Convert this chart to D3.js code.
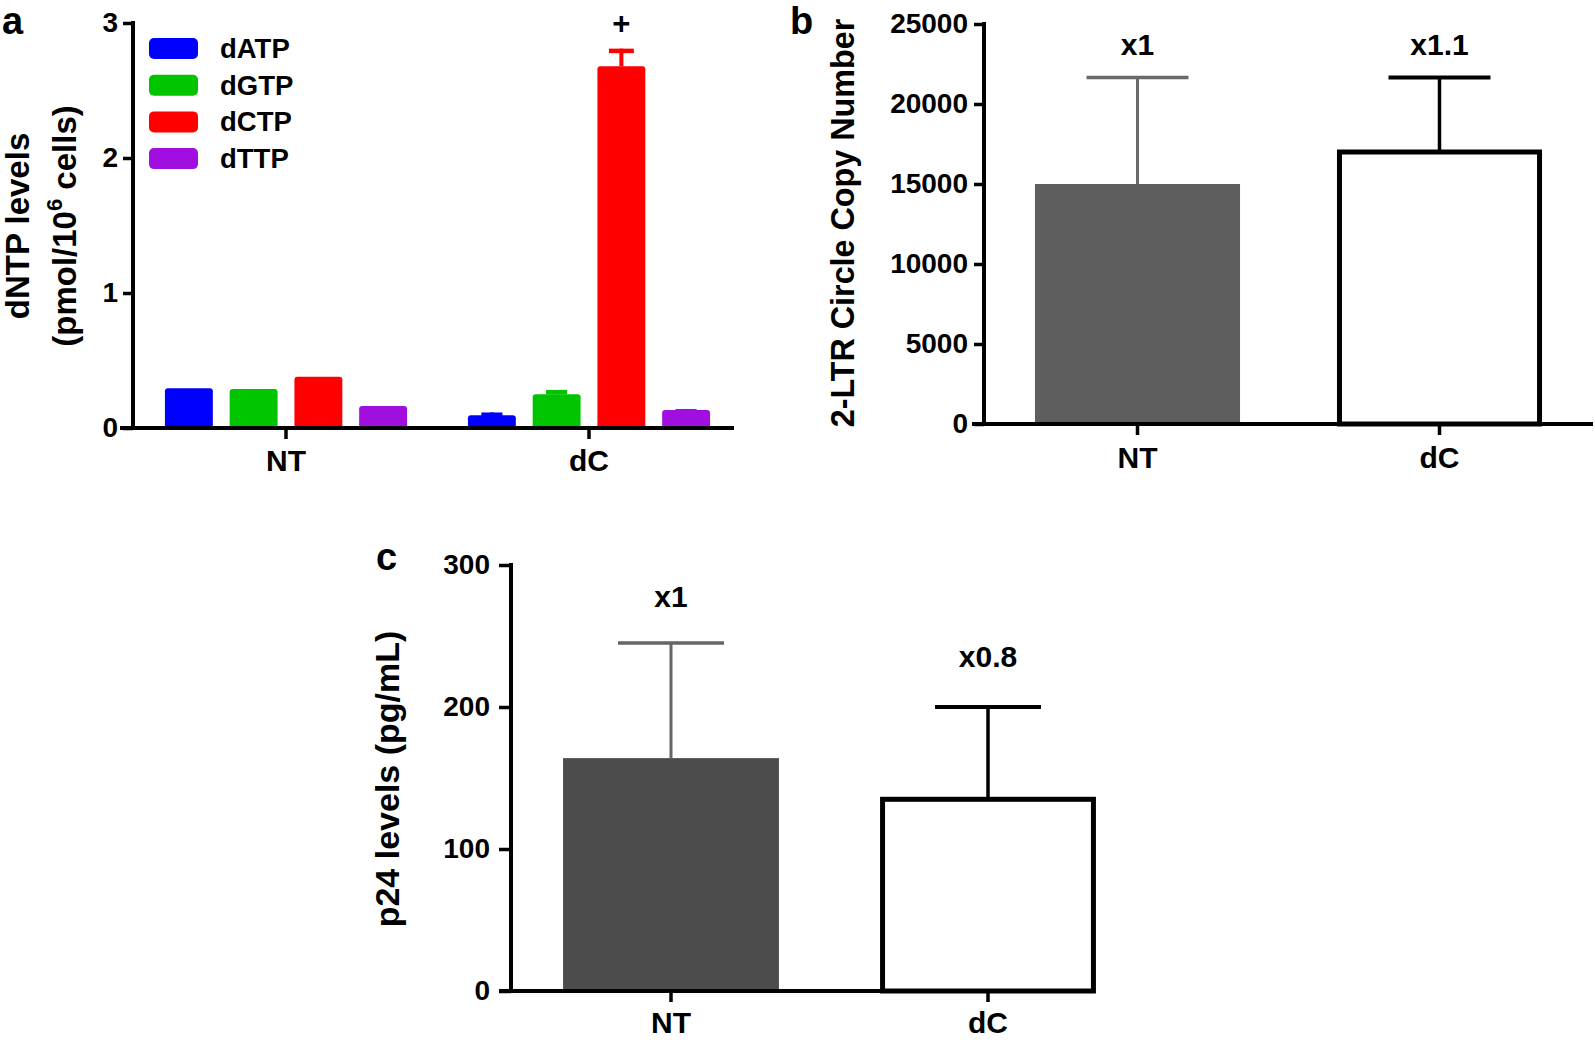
<!DOCTYPE html>
<html>
<head>
<meta charset="utf-8">
<script src="https://cdn.jsdelivr.net/npm/d3@7"></script>
<style>
  html, body { margin: 0; padding: 0; background: #fff; }
  svg { display: block; }
  text { font-family: "Liberation Sans", Arial, sans-serif; font-weight: bold; fill: #000; }
</style>
</head>
<body>
<svg id="chart" width="1595" height="1040"></svg>
<script>
// ---------- data ----------
const groups = ["NT", "dC"];
const nucleotides = ["dATP", "dGTP", "dCTP", "dTTP"];
const nucColors = ["#0000ff", "#00c400", "#ff0000", "#a00fe0"];
const dntpNT = [0.295, 0.288, 0.38, 0.163];
const dntpErrNT = [0, 0, 0, 0];
const dntpDC = [0.095, 0.25, 2.68, 0.133];
const dntpErrDC = [0.02, 0.032, 0.13, 0.008];
const dntpTicks = [0, 1, 2, 3];

const ltrMeans = [15000, 17000];
const ltrErr = [6650, 4650];
const ltrFold = ["x1", "x1.1"];
const ltrTicks = [0, 5000, 10000, 15000, 20000, 25000];

const p24Means = [164, 135];
const p24Err = [81, 65];
const p24Fold = ["x1", "x0.8"];
const p24Ticks = [0, 100, 200, 300];

const svg = d3.select("#chart");

function styleAxis(g, fontSize) {
  g.selectAll(".domain").remove();
  g.selectAll(".tick line").attr("stroke", "#000").attr("stroke-width", 3.5);
  g.selectAll(".tick text")
    .attr("font-family", '"Liberation Sans", Arial, sans-serif')
    .attr("font-weight", "bold")
    .attr("font-size", fontSize)
    .attr("fill", "#000");
}

// ---------- panel a ----------
(function () {
  const yA = d3.scaleLinear().domain([0, 3]).range([428, 23]);
  const xA = d3.scaleBand().domain(groups).range([134.5, 740.5]).padding(0);
  const xIn = d3.scaleBand().domain(nucleotides).range([0, xA.bandwidth()])
    .paddingInner(0.26).paddingOuter(0.47);
  const axisX = 133;
  const g = svg.append("g");

  const rows = [];
  groups.forEach((grp, gi) => {
    const vals = gi === 0 ? dntpNT : dntpDC;
    const errs = gi === 0 ? dntpErrNT : dntpErrDC;
    nucleotides.forEach((n, ni) => rows.push({ grp, n, v: vals[ni], e: errs[ni], c: nucColors[ni] }));
  });

  // error bars (drawn in bar colour): stem + cap whose top sits at mean+err
  rows.filter(d => d.e > 0).forEach(d => {
    const cx = xA(d.grp) + xIn(d.n) + xIn.bandwidth() / 2;
    const capW = d.n === "dCTP" ? xIn.bandwidth() * 0.52 : xIn.bandwidth() * 0.44;
    g.append("line").attr("x1", cx).attr("x2", cx)
      .attr("y1", yA(d.v)).attr("y2", yA(d.v + d.e))
      .attr("stroke", d.c).attr("stroke-width", 4);
    g.append("rect").attr("x", cx - capW / 2).attr("width", capW)
      .attr("y", yA(d.v + d.e)).attr("height", 4.5)
      .attr("fill", d.c);
  });

  g.selectAll("rect.bar").data(rows).join("rect")
    .attr("class", "bar")
    .attr("x", d => xA(d.grp) + xIn(d.n))
    .attr("width", xIn.bandwidth())
    .attr("y", d => yA(d.v))
    .attr("height", d => yA(0) - yA(d.v) + 2)
    .attr("rx", 3)
    .attr("fill", d => d.c);

  // y axis
  const ya = g.append("g").attr("transform", `translate(${axisX},0)`)
    .call(d3.axisLeft(yA).tickValues(dntpTicks).tickSize(10).tickPadding(5).tickFormat(d3.format("d")));
  styleAxis(ya, 28);
  g.append("line").attr("x1", axisX).attr("x2", axisX).attr("y1", yA(0) + 2).attr("y2", yA(3) - 2)
    .attr("stroke", "#000").attr("stroke-width", 4);
  // x axis
  const xa = g.append("g").attr("transform", `translate(0,${yA(0)})`)
    .call(d3.axisBottom(xA).tickSize(11).tickPadding(11));
  styleAxis(xa, 30);
  g.append("line").attr("x1", axisX - 13).attr("x2", 734).attr("y1", yA(0)).attr("y2", yA(0))
    .attr("stroke", "#000").attr("stroke-width", 4);

  // "+" marker
  const cx = xA("dC") + xIn("dCTP") + xIn.bandwidth() / 2;
  g.append("text").attr("x", cx).attr("y", 34).attr("text-anchor", "middle")
    .attr("font-size", 31).attr("font-weight", "normal").text("+");

  // legend
  const lg = g.append("g");
  nucleotides.forEach((n, i) => {
    const y0 = 38 + i * 36.7;
    lg.append("rect").attr("x", 149).attr("y", y0).attr("width", 49).attr("height", 21)
      .attr("rx", 5).attr("fill", nucColors[i]);
    lg.append("text").attr("x", 220).attr("y", y0 + 20).attr("font-size", 27.5).text(n);
  });

  // y title
  g.append("text").attr("transform", "translate(29,226) rotate(-90)")
    .attr("text-anchor", "middle").attr("font-size", 33).text("dNTP levels");
  const t2 = g.append("text").attr("transform", "translate(76,226) rotate(-90)")
    .attr("text-anchor", "middle").attr("font-size", 33);
  t2.append("tspan").text("(pmol/10");
  t2.append("tspan").attr("font-size", 22).attr("dy", -14).text("6");
  t2.append("tspan").attr("dy", 14).text(" cells)");

  g.append("text").attr("x", 2).attr("y", 34).attr("font-size", 38).text("a");
})();

// ---------- generic two-bar panel ----------
function twoBarPanel(opt) {
  const g = svg.append("g");
  const y = d3.scaleLinear().domain(opt.yDomain).range(opt.yRange);
  const x = d3.scaleBand().domain(groups).range(opt.xRange)
    .paddingInner(opt.padIn).paddingOuter(opt.padIn / 2);
  const bw = x.bandwidth();

  // error bars
  groups.forEach((grp, i) => {
    const cx = x(grp) + bw / 2;
    const top = y(opt.means[i] + opt.errs[i]);
    const col = i === 0 ? opt.errColorNT : "#000";
    const sw = i === 0 ? 3 : 3.5;
    g.append("line").attr("x1", cx).attr("x2", cx).attr("y1", y(opt.means[i])).attr("y2", top)
      .attr("stroke", col).attr("stroke-width", sw);
    g.append("line").attr("x1", cx - opt.capHalf).attr("x2", cx + opt.capHalf)
      .attr("y1", top).attr("y2", top)
      .attr("stroke", col).attr("stroke-width", i === 0 ? 3.5 : 4);
  });

  // bars
  g.append("rect").attr("x", x("NT")).attr("width", bw)
    .attr("y", y(opt.means[0])).attr("height", y(0) - y(opt.means[0]))
    .attr("fill", opt.fillNT);
  g.append("rect").attr("x", x("dC") + 2.5).attr("width", bw - 5)
    .attr("y", y(opt.means[1])).attr("height", y(0) - y(opt.means[1]))
    .attr("fill", "#fff").attr("stroke", "#000").attr("stroke-width", 5);

  // fold labels
  groups.forEach((grp, i) => {
    g.append("text").attr("x", x(grp) + bw / 2).attr("y", opt.labelY[i])
      .attr("text-anchor", "middle").attr("font-size", opt.labelSize).text(opt.fold[i]);
  });

  // axes
  const ya = g.append("g").attr("transform", `translate(${opt.axisX},0)`)
    .call(d3.axisLeft(y).tickValues(opt.ticks).tickSize(opt.yTickLen).tickPadding(opt.yTickPad)
      .tickFormat(d3.format("d")));
  styleAxis(ya, opt.tickSize);
  g.append("line").attr("x1", opt.axisX).attr("x2", opt.axisX)
    .attr("y1", y(0) + 2).attr("y2", y(opt.yDomain[1]) - 2)
    .attr("stroke", "#000").attr("stroke-width", 4);
  const xa = g.append("g").attr("transform", `translate(0,${y(0)})`)
    .call(d3.axisBottom(x).tickSize(11).tickPadding(opt.catPad));
  styleAxis(xa, opt.catSize);
  g.append("line").attr("x1", opt.axisX - 12).attr("x2", opt.xEnd).attr("y1", y(0)).attr("y2", y(0))
    .attr("stroke", "#000").attr("stroke-width", 4);

  // y title
  g.append("text").attr("transform", `translate(${opt.titleX},${opt.titleY}) rotate(-90)`)
    .attr("text-anchor", "middle").attr("font-size", opt.titleSize).text(opt.title);
  // panel letter
  g.append("text").attr("x", opt.letter[0]).attr("y", opt.letter[1]).attr("font-size", 38).text(opt.letter[2]);
}

twoBarPanel({
  yDomain: [0, 25000], yRange: [424, 24], xRange: [986.5, 1590.5], padIn: 0.321,
  axisX: 984, xEnd: 1593,
  means: ltrMeans, errs: ltrErr, fold: ltrFold, ticks: ltrTicks,
  fillNT: "#5e5e5e", errColorNT: "#6a6a6a", capHalf: 51,
  labelY: [55, 55], labelSize: 30, tickSize: 28, catSize: 30, catPad: 12,
  yTickLen: 10, yTickPad: 6,
  title: "2-LTR Circle Copy Number", titleX: 854, titleY: 223, titleSize: 32.3,
  letter: [790, 34, "b"]
});

twoBarPanel({
  yDomain: [0, 300], yRange: [991, 565], xRange: [512.5, 1146.5], padIn: 0.319,
  axisX: 511, xEnd: 1094,
  means: p24Means, errs: p24Err, fold: p24Fold, ticks: p24Ticks,
  fillNT: "#4c4c4c", errColorNT: "#666666", capHalf: 53,
  labelY: [607, 667], labelSize: 30, tickSize: 28, catSize: 30, catPad: 10,
  yTickLen: 12, yTickPad: 9,
  title: "p24 levels (pg/mL)", titleX: 399, titleY: 779, titleSize: 34,
  letter: [376, 570, "c"]
});
</script>
</body>
</html>
